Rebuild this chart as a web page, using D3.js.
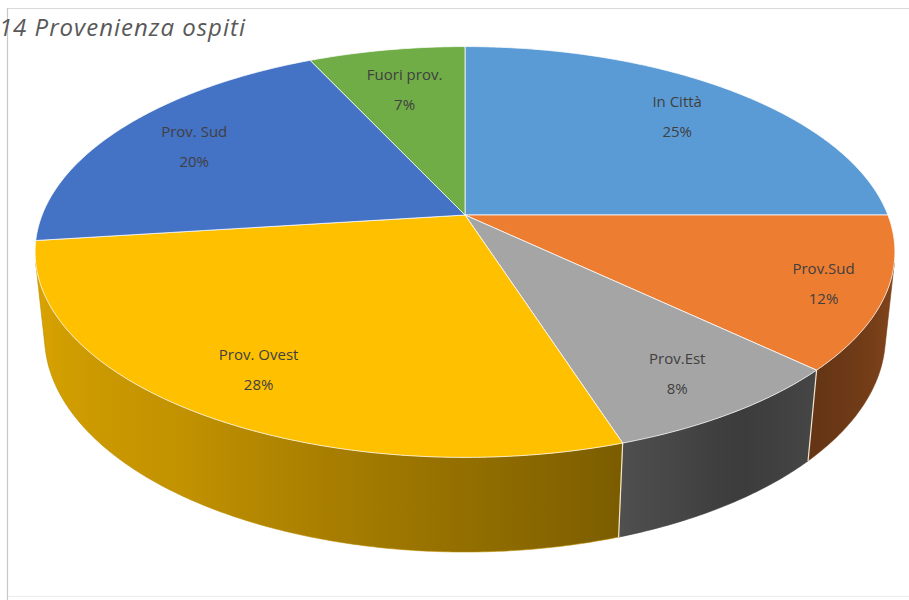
<!DOCTYPE html>
<html>
<head>
<meta charset="utf-8">
<script src="https://cdn.jsdelivr.net/npm/d3@7"></script>
<style>
  html, body { margin: 0; padding: 0; background: #ffffff; }
  svg { display: block; }
</style>
</head>
<body>
<svg id="chart" width="909" height="600"></svg>
<script>
// Guest origin shares
const categories = ["In Città", "Prov.Sud", "Prov.Est", "Prov. Ovest", "Prov. Sud", "Fuori prov."];
const values = [25, 12, 8, 28, 20, 7];
const sliceColors = ["#5b9bd5", "#ed7d31", "#a5a5a5", "#ffc000", "#4472c4", "#70ad47"];
const titleText = "14 Provenienza ospiti";

// ---- layout / camera ----
const W = 909, H = 600;
const cx = 465, cy = 215;          // projected centre of the top face
const focal = 2074;                // perspective focal length (px)
const R = 0.2039;                  // disc radius in camera units (eye distance = 1)
const sinT = 0.47, cosT = Math.sqrt(1 - sinT * sinT); // tilt of the disc
const thick = 0.0464;              // disc thickness
const labelRadius = [0.78, 0.86, 0.82, 0.8, 0.78, 0.74];

const svg = d3.select("#chart");

// project a point on the disc: angle theta (0 = back, clockwise), radius fraction r, height h
function proj(theta, r, h) {
  const X = R * r * Math.sin(theta);
  const d = R * r * Math.cos(theta);
  const Y = d * sinT + h * cosT;
  const Z = 1 + d * cosT - h * sinT;
  return [cx + focal * X / Z, cy - focal * Y / Z];
}

const pie = d3.pie().sort(null).value(d => d);
const arcs = pie(values);
const total = d3.sum(values);
const pct = d3.format(".0%");

// wall faces the eye where cos(theta) < -R/cosT
const visLo = Math.acos(-R / cosT);
const visHi = 2 * Math.PI - visLo;

// side shading by angle (fraction of the face colour kept)
const shadeScale = d3.scaleLinear()
  .domain([100, 147, 165, 215, 260].map(a => a * Math.PI / 180))
  .range([0.58, 0.36, 0.5, 0.76, 0.87])
  .clamp(true);

function shade(color, k) {
  return d3.interpolateRgb("#000000", color)(k);
}

function sample(a0, a1, step) {
  const n = Math.max(2, Math.ceil(Math.abs(a1 - a0) / step));
  return d3.range(n + 1).map(i => a0 + (a1 - a0) * i / n);
}

const defs = svg.append("defs");
const line = d3.line();

// frame
svg.append("line").attr("x1", 8).attr("x2", W).attr("y1", 8.5).attr("y2", 8.5)
  .attr("stroke", "#d9d9d9").attr("stroke-width", 1);
svg.append("line").attr("x1", 7.5).attr("x2", 7.5).attr("y1", 8).attr("y2", H)
  .attr("stroke", "#c8c8c8").attr("stroke-width", 1.2);
svg.append("line").attr("x1", 8).attr("x2", W).attr("y1", 596.5).attr("y2", 596.5)
  .attr("stroke", "#ececec").attr("stroke-width", 1);

// outer walls
const walls = svg.append("g");
arcs.forEach((a, i) => {
  const a0 = Math.max(a.startAngle, visLo);
  const a1 = Math.min(a.endAngle, visHi);
  if (a0 >= a1) return;
  const angs = sample(a0, a1, 0.01);
  const topPts = angs.map(t => proj(t, 1, 0));
  const botPts = angs.slice().reverse().map(t => proj(t, 1, -thick));
  const xs = topPts.map(p => p[0]);
  const xStart = xs[0], xEnd = xs[xs.length - 1];
  const gid = "wall" + i;
  const grad = defs.append("linearGradient").attr("id", gid)
    .attr("gradientUnits", "userSpaceOnUse")
    .attr("x1", xStart).attr("x2", xEnd).attr("y1", 0).attr("y2", 0);
  sample(a0, a1, 0.05).forEach(t => {
    const px = proj(t, 1, 0)[0];
    grad.append("stop")
      .attr("offset", xEnd === xStart ? 0 : (px - xStart) / (xEnd - xStart))
      .attr("stop-color", shade(sliceColors[i], shadeScale(t)));
  });
  walls.append("path")
    .attr("d", line(topPts.concat(botPts)) + "Z")
    .attr("fill", `url(#${gid})`)
    .attr("stroke", shade(sliceColors[i], shadeScale((a0 + a1) / 2)))
    .attr("stroke-width", 0.6);
});
// slice seams on the walls
arcs.forEach(a => {
  const t = a.startAngle;
  if (t > visLo && t < visHi) {
    const p0 = proj(t, 1, 0), p1 = proj(t, 1, -thick);
    walls.append("line").attr("x1", p0[0]).attr("y1", p0[1]).attr("x2", p1[0]).attr("y2", p1[1])
      .attr("stroke", "#f2e6d0").attr("stroke-width", 1.2);
  }
});

// top faces
const tops = svg.append("g");
arcs.forEach((a, i) => {
  const pts = [proj(0, 0, 0)].concat(sample(a.startAngle, a.endAngle, 0.01).map(t => proj(t, 1, 0)));
  tops.append("path")
    .attr("d", line(pts) + "Z")
    .attr("fill", sliceColors[i])
    .attr("stroke", "#ffffff")
    .attr("stroke-opacity", 0.75)
    .attr("stroke-width", 1)
    .attr("stroke-linejoin", "round");
});

// data labels
const labels = svg.append("g")
  .attr("font-family", "'Open Sans', 'DejaVu Sans', sans-serif")
  .attr("font-size", 15)
  .attr("fill", "#404040")
  .attr("text-anchor", "middle");
arcs.forEach((a, i) => {
  const mid = (a.startAngle + a.endAngle) / 2;
  const [lx, ly] = proj(mid, labelRadius[i], 0);
  const t = labels.append("text").attr("x", lx).attr("y", ly);
  t.append("tspan").attr("x", lx).attr("dy", -8).text(categories[i]);
  t.append("tspan").attr("x", lx).attr("dy", 30).text(pct(values[i] / total));
});

// title
svg.append("text")
  .attr("x", 246).attr("y", 36)
  .attr("text-anchor", "end")
  .attr("font-family", "'Open Sans', Lato, sans-serif")
  .attr("font-style", "italic")
  .attr("font-size", 24)
  .attr("letter-spacing", 1)
  .attr("fill", "#595959")
  .text(titleText);
</script>
</body>
</html>
